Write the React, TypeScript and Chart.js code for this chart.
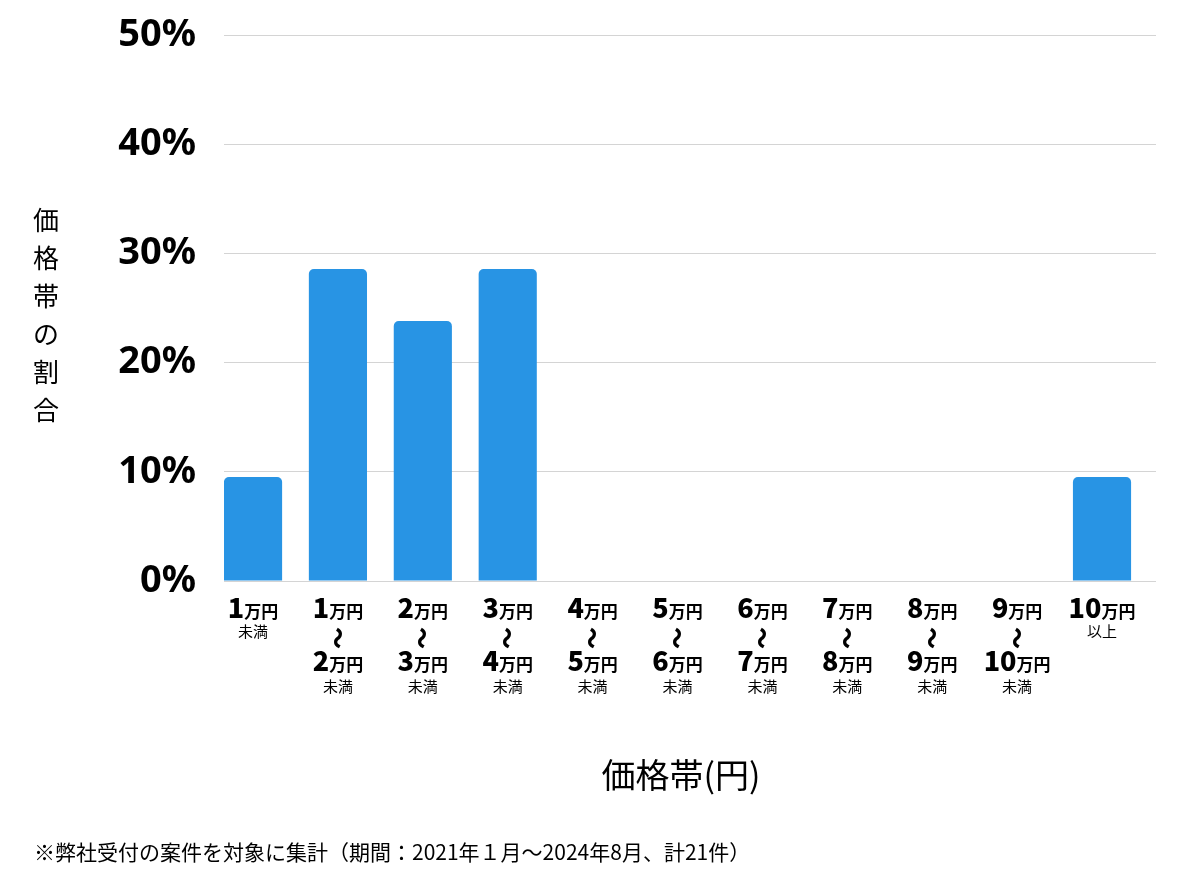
import React, { useEffect, useRef } from 'react';
import { Chart, registerables } from 'chart.js';

Chart.register(...registerables);

// ---- data ----
const tickTop = ['1', '1', '2', '3', '4', '5', '6', '7', '8', '9', '10'];
const tickBottom: (string | null)[] = [null, '2', '3', '4', '5', '6', '7', '8', '9', '10', null];
const tickNote = ['未満', '未満', '未満', '未満', '未満', '未満', '未満', '未満', '未満', '未満', '以上'];
const shareValues = [9.52, 28.57, 23.81, 28.57, 0, 0, 0, 0, 0, 0, 9.52];
const yTickValues = [0, 10, 20, 30, 40, 50];
const yTitle = '価格帯の割合';
const xTitle = '価格帯(円)';
const footnote = '※弊社受付の案件を対象に集計（期間：2021年１月～2024年8月、計21件）';

const FONT = '"Noto Sans CJK JP", "Noto Sans", sans-serif';
const TICK_FONT = '"Noto Sans", "Noto Sans CJK JP", sans-serif';
const BAR_COLOR = '#2894E4';

function drawAmount(ctx: CanvasRenderingContext2D, num: string, cx: number, baseline: number) {
  ctx.font = `900 27px ${FONT}`;
  const w1 = ctx.measureText(num).width;
  ctx.font = `bold 17px ${FONT}`;
  const w2 = ctx.measureText('万円').width;
  const start = cx - (w1 + w2) / 2;
  ctx.textAlign = 'left';
  ctx.textBaseline = 'alphabetic';
  ctx.font = `900 27px ${FONT}`;
  ctx.fillText(num, start, baseline);
  ctx.font = `bold 17px ${FONT}`;
  ctx.fillText('万円', start + w1, baseline);
}

function drawNote(ctx: CanvasRenderingContext2D, text: string, cx: number, cy: number) {
  ctx.font = `15px ${FONT}`;
  ctx.textAlign = 'center';
  ctx.textBaseline = 'middle';
  ctx.fillText(text, cx, cy);
}

function drawWave(ctx: CanvasRenderingContext2D, cx: number, cy: number) {
  ctx.save();
  ctx.translate(cx, cy);
  ctx.rotate(Math.PI / 2);
  ctx.font = `900 22px ${FONT}`;
  ctx.textAlign = 'center';
  ctx.textBaseline = 'middle';
  ctx.fillText('～', 0, 0);
  ctx.restore();
}

const labelPlugin = {
  id: 'customLabels',
  afterDraw(chart: any) {
    const ctx: CanvasRenderingContext2D = chart.ctx;
    const xs = chart.scales.x;
    const area = chart.chartArea;
    ctx.save();
    ctx.fillStyle = '#000';
    tickTop.forEach((top, i) => {
      const cx = xs.getPixelForValue(i);
      const base = area.bottom;
      drawAmount(ctx, top, cx, base + 37);
      const bottom = tickBottom[i];
      if (bottom) {
        drawWave(ctx, cx, base + 57);
        drawAmount(ctx, bottom, cx, base + 90);
        drawNote(ctx, tickNote[i], cx, base + 105);
      } else {
        drawNote(ctx, tickNote[i], cx, base + 50);
      }
    });

    // y title (vertical, stacked characters)
    ctx.font = `26px ${FONT}`;
    ctx.textAlign = 'center';
    ctx.textBaseline = 'middle';
    const chars = Array.from(yTitle);
    const step = 38;
    const midY = (area.top + area.bottom) / 2 + 7;
    chars.forEach((c, k) => {
      ctx.fillText(c, 46, midY + (k - (chars.length - 1) / 2) * step);
    });

    // x title
    ctx.font = `34px ${FONT}`;
    ctx.textAlign = 'center';
    ctx.fillText(xTitle, 681, 775);

    // footnote
    ctx.font = `21px ${FONT}`;
    ctx.textAlign = 'left';
    ctx.fillText(footnote, 34, 852);
    ctx.restore();
  },
};

export default function App() {
  const canvasRef = useRef<HTMLCanvasElement | null>(null);

  useEffect(() => {
    if (!canvasRef.current) return;
    const chart = new Chart(canvasRef.current, {
      type: 'bar',
      data: {
        datasets: [
          {
            data: shareValues.map((v, i) => ({ x: i, y: v })),
            backgroundColor: BAR_COLOR,
            borderWidth: 0,
            borderRadius: 5,
            borderSkipped: 'start',
            barPercentage: 0.685,
            categoryPercentage: 1,
          },
        ],
      },
      options: {
        animation: false,
        responsive: false,
        maintainAspectRatio: false,
        layout: { padding: { top: 35, right: 44, bottom: 0, left: 0 } },
        plugins: { legend: { display: false }, tooltip: { enabled: false }, title: { display: false } },
        scales: {
          x: {
            type: 'linear',
            min: -0.342,
            max: 10.636,
            offset: false,
            grid: { display: false },
            border: { display: false },
            ticks: { display: false },
            afterFit: (scale: any) => {
              scale.height = 293;
            },
          },
          y: {
            min: 0,
            max: 50,
            afterBuildTicks: (scale: any) => {
              scale.ticks = yTickValues.map((v) => ({ value: v }));
            },
            afterFit: (scale: any) => {
              scale.width = 224;
              scale.paddingTop = 0;
              scale.paddingBottom = 0;
            },
            grid: { color: '#d4d4d4', lineWidth: 1, drawTicks: false },
            border: { display: false },
            ticks: {
              padding: 28,
              color: '#000',
              font: { family: TICK_FONT, size: 38, weight: 'bold' },
              callback: (v: any) => `${v}%`,
            },
          },
        },
      } as any,
      plugins: [labelPlugin],
    });
    return () => chart.destroy();
  }, []);

  return (
    <div style={{ position: 'fixed', left: 0, top: 0, width: 1200, height: 874, background: '#fff' }}>
      <canvas ref={canvasRef} width={1200} height={874} style={{ width: 1200, height: 874, display: 'block' }} />
    </div>
  );
}
